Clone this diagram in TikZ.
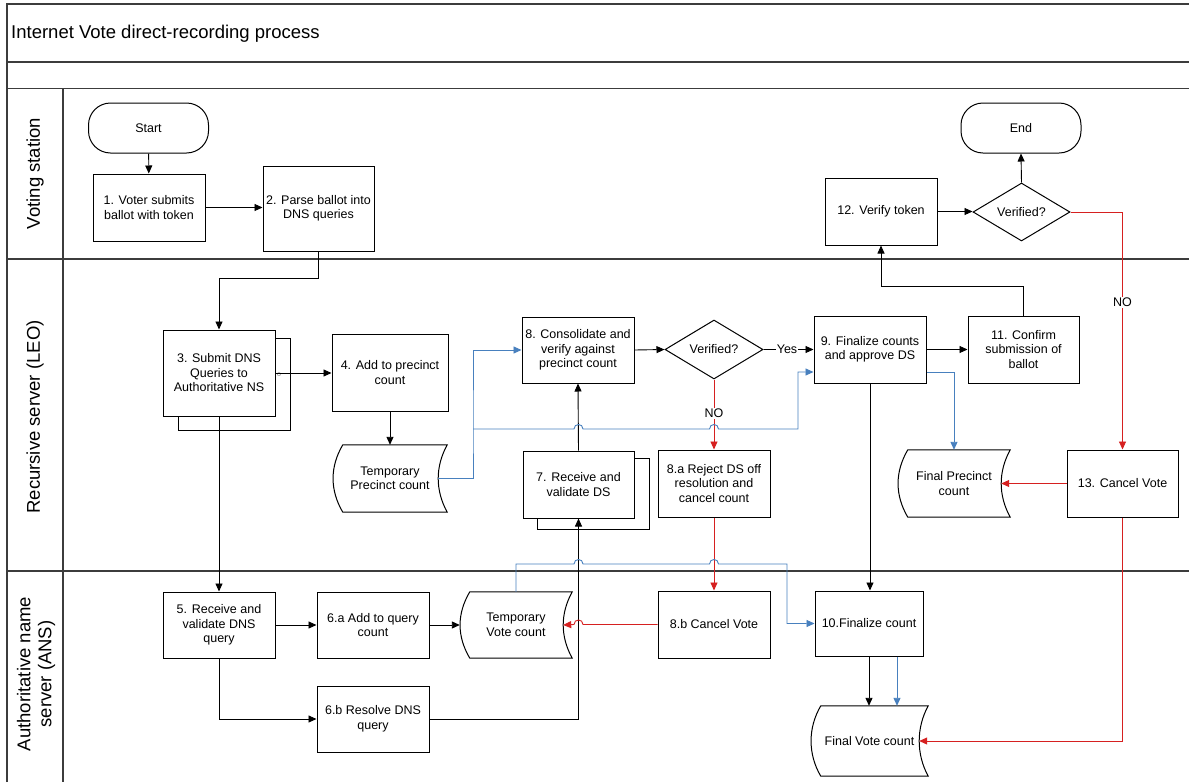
\documentclass[tikz,border=0pt]{standalone}
\usepackage{fontspec}
\setmainfont{Liberation Sans}
\usetikzlibrary{shapes.geometric,calc,arrows.meta}
\definecolor{flowblue}{RGB}{72,128,190}
\definecolor{flowred}{RGB}{214,32,32}
\definecolor{framegray}{RGB}{60,60,60}
\newcommand\storedborder[1]{%
  \draw[line width=1pt,fill=white] ($(#1.north west)+(10,0)$) -- (#1.north east)
    .. controls +(-12,22) and +(-12,-22) .. (#1.south east)
    -- ($(#1.south west)+(10,0)$)
    .. controls +(-13,-22) and +(-13,22) .. ($(#1.north west)+(10,0)$) -- cycle;}
\begin{document}
\begin{tikzpicture}[x=1pt,y=-1pt,
  txt/.style={font=\fontsize{12.5}{14.5}\selectfont},
  box/.style={txt,draw,line width=1pt,fill=white,minimum width=112pt,minimum height=67pt,align=center,inner sep=2pt},
  term/.style={txt,draw,line width=1pt,rounded corners=22pt,minimum width=120pt,minimum height=50pt},
  dec/.style={txt,draw,diamond,line width=1pt,shape aspect=1.66,minimum width=98pt,minimum height=59pt,inner sep=0pt,fill=white},
  store/.style={txt,minimum width=112pt,minimum height=67pt,align=center,inner sep=0pt},
  frame/.style={draw=framegray,line width=1.4pt},
  lane/.style={font=\fontsize{18.5}{21}\selectfont,rotate=90,align=center},
  conn/.style={line width=0.9pt,-{Triangle[length=8pt,width=7pt]}},
  bconn/.style={conn,draw=flowblue,-{Triangle[length=8pt,width=7pt,fill=flowblue]}},
  rconn/.style={conn,draw=flowred,-{Triangle[length=8pt,width=7pt,fill=flowred]}},
  lbl/.style={txt,fill=white,inner sep=1pt}
]
\useasboundingbox (0,0) rectangle (1189,782);
\fill[white] (0,0) rectangle (1189,782);

% frame and lanes
\draw[frame] (7,782) -- (7,4) -- (1189,4);
\draw[frame] (7,62) -- (1189,62);
\draw[frame] (7,88.5) -- (1189,88.5);
\draw[frame] (7,259) -- (1189,259);
\draw[frame] (7,571) -- (1189,571);
\draw[frame] (63,88.5) -- (63,782);
\node[font=\fontsize{18.5}{21}\selectfont,anchor=base west,inner sep=0pt] (title) at (11,38) {Internet Vote direct-recording process};
\node[lane] (laneV) at (35,173.5) {Voting station};
\node[lane] (laneR) at (35,417) {Recursive server (LEO)};
\node[lane] (laneA) at (36,674) {Authoritative name\\server (ANS)};

% back copies of multi-process boxes
\draw[line width=1pt,fill=white] (178,338) rectangle (290,430);
\draw[line width=1pt,fill=white] (537,458) rectangle (649,529);

% nodes
\node[term] (start) at (148.5,128) {Start};
\node[box] (n1) at (149,207.5) {1. Voter submits\\ballot with token};
\node[box,minimum width=111pt,minimum height=85pt] (n2) at (318.5,208.5) {2. Parse ballot into\\DNS queries};
\node[box,minimum height=86pt] (n3) at (219,373) {3. Submit DNS\\Queries to\\Authoritative NS};
\node[txt,font=\fontsize{7}{8}\selectfont,text=gray,inner sep=0pt] (omark) at (279,375) {o};
\node[box,minimum width=116pt,minimum height=77pt] (n4) at (390,372.5) {4. Add to precinct\\count};
\node[store,minimum width=114pt] (tpc) at (390,478.5) {};
\storedborder{tpc}
\node[txt,align=center] (tpct) at (tpc) {Temporary\\Precinct count};
\node[box,minimum height=66pt] (n5) at (219,625) {5. Receive and\\validate DNS\\query};
\node[box,minimum height=66pt] (n6a) at (373,625) {6.a Add to query\\count};
\node[box,minimum height=66pt] (n6b) at (373,719) {6.b Resolve DNS\\query};
\node[store,minimum height=66pt] (tvc) at (516,625) {};
\storedborder{tvc}
\node[txt,align=center] (tvct) at (tvc) {Temporary\\Vote count};
\node[box,minimum width=111pt] (n7) at (578.5,484.5) {7. Receive and\\validate DS};
\node[box,minimum height=66pt] (n8) at (578,350) {8. Consolidate and\\verify against\\precinct count};
\node[dec] (v1) at (714,349.5) {Verified?};
\node[box] (n8a) at (714,483.5) {8.a Reject DS off\\resolution and\\cancel count};
\node[box] (n8b) at (714,624.5) {8.b Cancel Vote};
\node[box] (n9) at (870,349.5) {9. Finalize counts\\and approve DS};
\node[box,minimum width=111pt] (n11) at (1023.5,349.5) {11. Confirm\\submission of\\ballot};
\node[box] (n12) at (881,211.5) {12. Verify token};
\node[dec,minimum width=97pt,minimum height=58pt] (v2) at (1021.5,212) {Verified?};
\node[term] (end) at (1021,128) {End};
\node[box,minimum width=111pt] (n13) at (1122.5,483.5) {13. Cancel Vote};
\node[store] (fpc) at (954,483.5) {};
\storedborder{fpc}
\node[txt,align=center] (fpct) at (fpc) {Final Precinct\\count};
\node[box,minimum width=108pt,minimum height=65pt] (n10) at (869,623.5) {10.Finalize count};
\node[store,minimum width=117pt,minimum height=70pt] (fvc) at (869.5,741) {};
\storedborder{fvc}
\node[txt,align=center] (fvct) at (fvc) {Final Vote count};

% black connectors
\draw[conn] (start) -- (n1);
\draw[conn] (n1.east) -- (n1.east -| n2.west);
\draw[conn] (n2.south) -- ++(0,27) -| (n3.north);
\draw[conn] (n3.east) -- (n3.east -| n4.west);
\draw[conn] (n4) -- (tpc);
\draw[conn] (n3.south) -- (n5.north);
\draw[conn] (n5.east) -- (n6a.west);
\draw[conn] (n5.south) |- (n6b.west);
\draw[conn] (n6a.east) -- (tvc.west);
\draw[conn] (n6b.east) -| (n7.south);
\draw[conn] (n7.north) -- (n8.south);
\draw[conn] (n8.east) -- (v1.west);
\draw[conn] (v1.east) -- (v1.east -| n9.west) node[lbl,pos=0.47] {Yes};
\draw[conn] (n9.east) -- (n9.east -| n11.west);
\draw[conn] (n11.north) -- ++(0,-29) -| (n12.south);
\draw[conn] (n12.east) -- (n12.east -| v2.west);
\draw[conn] (v2.north) -- (end.south);
\draw[conn] (n9.south) -- (n9.south |- n10.north);
\draw[conn] (n10.south) -- (n10.south |- fvc.north);

% red connectors
\draw[rconn] (v2.east) -| (n13.north) node[lbl,pos=0.69,text=black] {NO};
\draw[rconn] (v1.south) -- (n8a.north) node[lbl,pos=0.48,text=black] {NO};
\draw[rconn] (n8a.south) -- (n8b.north);
\draw[rconn] (n8b.west) -- (583,624.5) .. controls (583,618.5) and (574,618.5) .. (574,624.5) -- ($(tvc.east)+(-9,0)$);
\draw[rconn] (n13.west) -- ($(fpc.east)+(-9,0)$);
\draw[rconn] (n13.south) |- ($(fvc.east)+(-9,0)$);

% blue connectors
\coordinate (bj) at (473,429);
\coordinate (b10) at ($(n10.south)+(28,0)$);
\draw[bconn] ($(tpc.east)+(-9,0)$) -| (bj) |- (n8.west);
\draw[bconn] (bj) -- (574,429) .. controls (574,423) and (583,423) .. (583,429)
  -- (709.5,429) .. controls (709.5,423) and (718.5,423) .. (718.5,429)
  -- (798,429) |- ($(n9.west)+(0,22.5)$);
\draw[bconn] ($(n9.east)+(0,22.5)$) -| (fpc.north);
\draw[bconn] (tvc.north) -- (516,564) -- (574,564) .. controls (574,558) and (583,558) .. (583,564)
  -- (709.5,564) .. controls (709.5,558) and (718.5,558) .. (718.5,564)
  -- (787,564) |- (n10.west);
\draw[bconn] (b10) -- (b10 |- fvc.north);
\end{tikzpicture}
\end{document}
